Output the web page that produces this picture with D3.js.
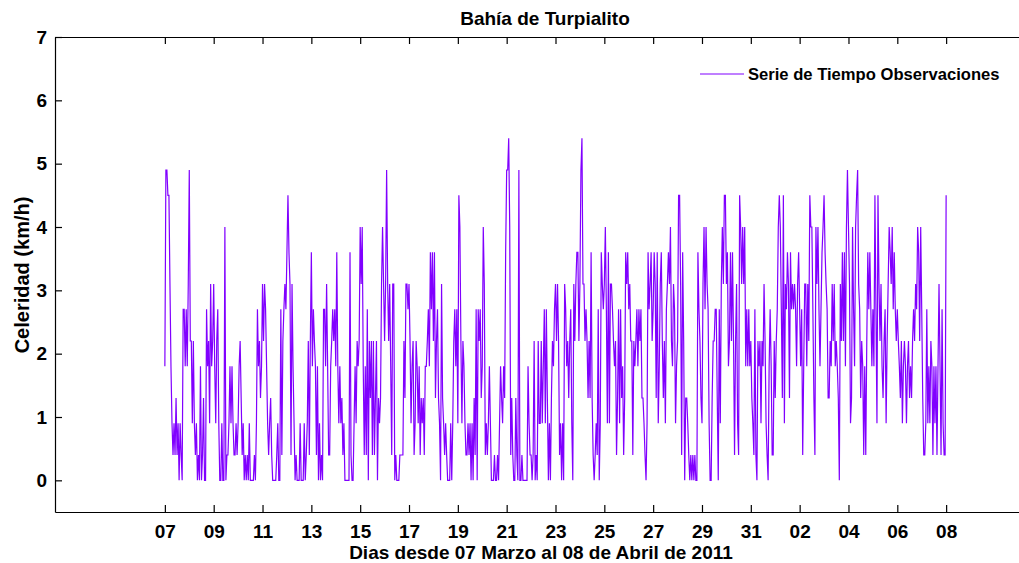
<!DOCTYPE html>
<html>
<head>
<meta charset="utf-8">
<script src="https://cdn.jsdelivr.net/npm/d3@7"></script>
<style>
  body { margin: 0; background: #fff; }
  svg { display: block; background: #fff; }
  svg text { font-family: "Liberation Sans", Arial, Helvetica, sans-serif; font-weight: bold; fill: #000; }
</style>
</head>
<body>
<svg id="chart" width="1019" height="563"></svg>
<script>
const titulo = "Bahía de Turpialito";
const etiquetaX = "Dias desde 07 Marzo al 08 de Abril de 2011";
const etiquetaY = "Celeridad (km/h)";
const leyenda = "Serie de Tiempo Observaciones";

// first observation, one value per hour (km/h)
const inicio = "2011-03-07T00:00:00Z";
const celeridad = [
  1.8,4.9,4.9,4.5,4.5,3.1,1.8,0.9,0.4,0.9,0.4,1.3,0.4,0.9,0,0.9,0.4,0,2.7,2.7,1.8,2.7,1.8,3.1,4.9,2.2,2.2,0.9,2.2,0.9,
  0.4,0.9,0,0.4,0,1.8,0,0.4,1.3,0,0,2.7,1.8,2.2,0.9,3.1,1.8,2.2,3.1,1.8,0.9,2.2,2.7,0.9,0,0,0.9,0,0,4,
  0,0.4,0.4,0.9,1.8,0.9,1.8,0.9,0.4,0.4,
  0.9,0.4,0.9,1.8,2.2,1.3,0.4,0.9,0,0.4,0,0.4,0,0.9,0,0,0,0,0.4,0,0.9,2.7,1.8,2.2,1.3,1.8,3.1,2.2,3.1,2.7,
  1.8,0.9,0.4,0.9,1.3,0.4,0,0,0,0,0.4,0.9,0,0,2.7,0.4,2.2,2.7,3.1,2.7,3.6,4.5,3.6,3.1,0.4,3.1,1.8,0.9,0,0.4,
  0,0,0,0.9,0,0,0,0.9,0,0.4,0.9,2.2,0.4,2.2,3.6,1.8,2.7,2.2,1.8,
  0.4,1.8,0,0.9,0,0.4,0,2.7,2.7,1.8,3.1,1.8,0.4,0.4,1.8,2.2,2.7,2.2,2.7,1.8,3.6,1.8,0.9,1.8,0.9,1.3,0.4,0.9,0,0,
  0,0,0,3.6,0.4,0,0,0.9,1.8,0.9,2.2,1.8,2.2,4,3.1,4,1.8,0.4,1.8,0.4,2.7,0,2.2,1.3,2.2,0.4,2.2,0.4,1.3,2.2,
  0,1.3,0.9,1.3,3.1,4,3.1,2.2,3.1,4.9,3.1,2.2,3.1,1.8,0.4,3.1,3.1,0,0.4,
  0,0,0,0.4,0.4,0.4,0.4,2.2,1.3,3.1,3.1,2.7,3.1,2.2,0.9,1.8,2.2,0.4,0.9,2.2,1.8,0.9,1.8,0.4,1.3,0.9,1.3,0.4,1.8,1.8,
  2.2,2.7,1.8,3.6,2.7,3.6,2.2,3.6,1.3,2.2,2.7,1.3,0.9,0,3.1,1.3,0.9,0.4,0.9,0.4,0,0,0,0.9,0,0.9,2.2,2.7,1.8,2.7,
  0.9,4.5,4,2.2,0.9,2.2,1.8,0.9,0.4,0.4,0.9,0.4,0.9,0,0.9,0,1.3,0.4,2.7,
  0,2.7,2.2,2.7,1.3,1.8,4,3.1,0.4,0.9,0.4,0.9,1.8,0.9,0,0,0,0.4,0,0,0.4,0,0.9,1.8,1.3,0.9,1.8,1.3,3.6,4.9,
  4.9,5.4,4,0.4,1.3,0.4,0,0,1.3,0.4,0,4.9,0,0,0.4,0,0,0,0,0,1.8,0.9,0.4,0.4,0,0.4,2.2,0,0.4,0,
  2.2,0.9,0.9,2.2,0.9,1.8,2.7,0.9,2.7,1.3,0,0.9,0,1.3,2.2,1.8,2.7,3.1,2.2,
  3.1,2.2,0.4,0.9,0,0.9,0,3.1,2.7,1.8,2.2,1.3,2.2,2.7,0.9,0,3.1,2.2,3.1,3.6,3.6,2.2,3.1,4.9,5.4,3.1,3.1,2.2,2.7,2.2,
  1.3,2.2,1.3,3.6,1.3,0.4,0,0.4,0.9,0.4,2.7,0,0.9,3.6,3.1,2.7,3.1,4,2.7,0.9,3.6,0.9,3.1,3.1,2.7,2.2,1.8,2.2,0.4,1.3,
  2.7,0.9,2.7,1.3,1.8,0.4,1.3,3.6,3.1,3.6,2.7,3.1,2.2,2.2,0.4,2.2,1.8,2.2,
  2.7,1.8,2.7,2.2,2.7,1.3,1.3,0.9,0.4,0,0.9,3.6,2.7,3.1,3.6,2.2,2.7,3.6,3.1,1.3,3.6,0.9,1.8,3.1,3.6,2.2,1.3,2.2,0.9,2.7,
  3.1,3.6,3.1,4,2.2,1.8,3.1,2.7,0.9,1.8,2.2,4.5,4.5,3.1,0.4,3.6,2.2,0,1.3,1.3,0.9,0.4,0,0.4,0,0.4,0,0.4,0,0,
  3.6,2.7,2.2,1.3,0.9,3.1,4,2.7,4,3.1,2.7,0.9,0,0,1.3,2.2,2.2,2.7,
  2.7,1.3,0,2.7,0.9,3.1,4,3.1,4.5,4.5,3.1,3.6,1.8,2.2,3.6,2.2,3.6,2.2,0.4,2.2,3.1,0.9,0.4,4.5,4,3.1,4,3.1,4,1.8,
  2.7,1.8,2.7,1.8,2.2,1.3,0.9,0.4,2.7,0.4,0,2.2,1.8,2.2,0.9,2.2,1.8,3.1,2.2,0.9,0.4,0,1.8,2.7,1.8,0.4,0.4,2.2,1.3,2.2,
  2.7,4,4.5,4,2.7,1.3,4.5,0.9,3.1,2.7,3.6,3.1,1.3,3.6,2.7,3.1,2.7,3.1,
  2.7,1.8,3.1,3.6,2.7,1.8,2.7,0.4,1.8,3.1,3.1,1.8,3.1,2.2,4.5,4,4,2.7,1.3,0.4,4,3.1,4,2.7,1.8,2.7,3.6,4,4.5,3.6,
  3.1,2.7,1.3,1.3,2.2,1.8,3.1,2.2,3.1,1.8,2.2,1.8,1.3,0,3.1,2.2,3.6,2.2,3.6,1.8,4,4.9,4,3.1,0.9,1.3,4,2.7,1.8,4,
  4.5,4.9,3.1,2.7,1.3,2.2,1.8,0.4,1.8,0.4,2.2,3.6,2.7,3.6,2.7,1.8,2.7,1.8,
  4.5,2.7,0.9,4.5,3.1,2.2,3.1,1.8,1.3,2.2,2.7,0.9,2.2,3.1,4,3.6,3.1,4,2.7,3.6,2.7,2.2,2.7,2.2,1.8,1.3,2.2,0.9,1.8,2.2,
  1.8,0.9,1.8,2.2,1.3,1.8,1.3,2.2,2.7,2.2,3.1,2.7,4,3.6,2.2,4,2.7,1.3,0.4,0.4,0.9,2.7,0.9,1.8,0.9,2.2,1.8,0.4,1.8,0.9,
  1.8,0.4,1.8,3.1,1.8,0.4,2.7,0.9,0.4,0.4,4.5
];

const ticksFecha = ["2011-03-07","2011-03-09","2011-03-11","2011-03-13","2011-03-15","2011-03-17",
  "2011-03-19","2011-03-21","2011-03-23","2011-03-25","2011-03-27","2011-03-29","2011-03-31",
  "2011-04-02","2011-04-04","2011-04-06","2011-04-08"];
const ticksY = [0, 1, 2, 3, 4, 5, 6, 7];
const limitesX = ["2011-03-02T12:00:00Z", "2011-04-12T12:00:00Z"];
const limitesY = [-0.5, 7];

const svg = d3.select("#chart");
const margen = { left: 55, top: 37, bottom: 512, right: 1056 }; // right edge falls outside the window
const t0 = new Date(inicio).getTime();
const serie = celeridad.map((v, i) => ({ t: new Date(t0 + i * 3600 * 1000), v: v }));

const x = d3.scaleUtc()
    .domain(limitesX.map(d => new Date(d)))
    .range([margen.left, margen.right]);
const y = d3.scaleLinear()
    .domain(limitesY)
    .range([margen.bottom, margen.top]);

// series
svg.append("path")
    .datum(serie)
    .attr("fill", "none")
    .attr("stroke", "#8000ff")
    .attr("stroke-width", 1.2)
    .attr("d", d3.line().x(d => x(d.t)).y(d => y(d.v)));

// axes, ticks pointing inward
const fechas = ticksFecha.map(d => new Date(d + "T00:00:00Z"));
svg.append("g")
    .attr("transform", `translate(0,${margen.bottom})`)
    .call(d3.axisBottom(x).tickValues(fechas).tickFormat(d3.utcFormat("%d"))
        .tickSizeInner(-7).tickSizeOuter(0).tickPadding(13));
svg.append("g")
    .attr("transform", `translate(0,${margen.top})`)
    .call(d3.axisTop(x).tickValues(fechas).tickFormat("").tickSizeInner(-7).tickSizeOuter(0));
svg.append("g")
    .attr("transform", `translate(${margen.left},0)`)
    .call(d3.axisLeft(y).tickValues(ticksY).tickFormat(d3.format("d"))
        .tickSizeInner(-7).tickSizeOuter(0).tickPadding(8));

svg.selectAll(".domain, .tick line")
    .attr("stroke", "#000")
    .attr("stroke-width", 1.2);
svg.selectAll(".tick text")
    .style("font-size", "19px")
    .style("font-family", "'Liberation Sans', Arial, sans-serif")
    .style("font-weight", "bold")
    .attr("fill", "#000");

// title and labels
svg.append("text")
    .attr("x", 545)
    .attr("y", 25)
    .attr("text-anchor", "middle")
    .style("font-size", "19px")
    .text(titulo);

svg.append("text")
    .attr("x", 541)
    .attr("y", 559)
    .attr("text-anchor", "middle")
    .style("font-size", "19px")
    .text(etiquetaX);

svg.append("text")
    .attr("transform", "translate(29,275) rotate(-90)")
    .attr("text-anchor", "middle")
    .style("font-size", "20px")
    .text(etiquetaY);

// legend (no box)
svg.append("line")
    .attr("x1", 700)
    .attr("x2", 744)
    .attr("y1", 74)
    .attr("y2", 74)
    .attr("stroke", "#8000ff")
    .attr("stroke-width", 1.2);
svg.append("text")
    .attr("x", 748)
    .attr("y", 80)
    .style("font-size", "16.6px")
    .text(leyenda);
</script>
</body>
</html>
